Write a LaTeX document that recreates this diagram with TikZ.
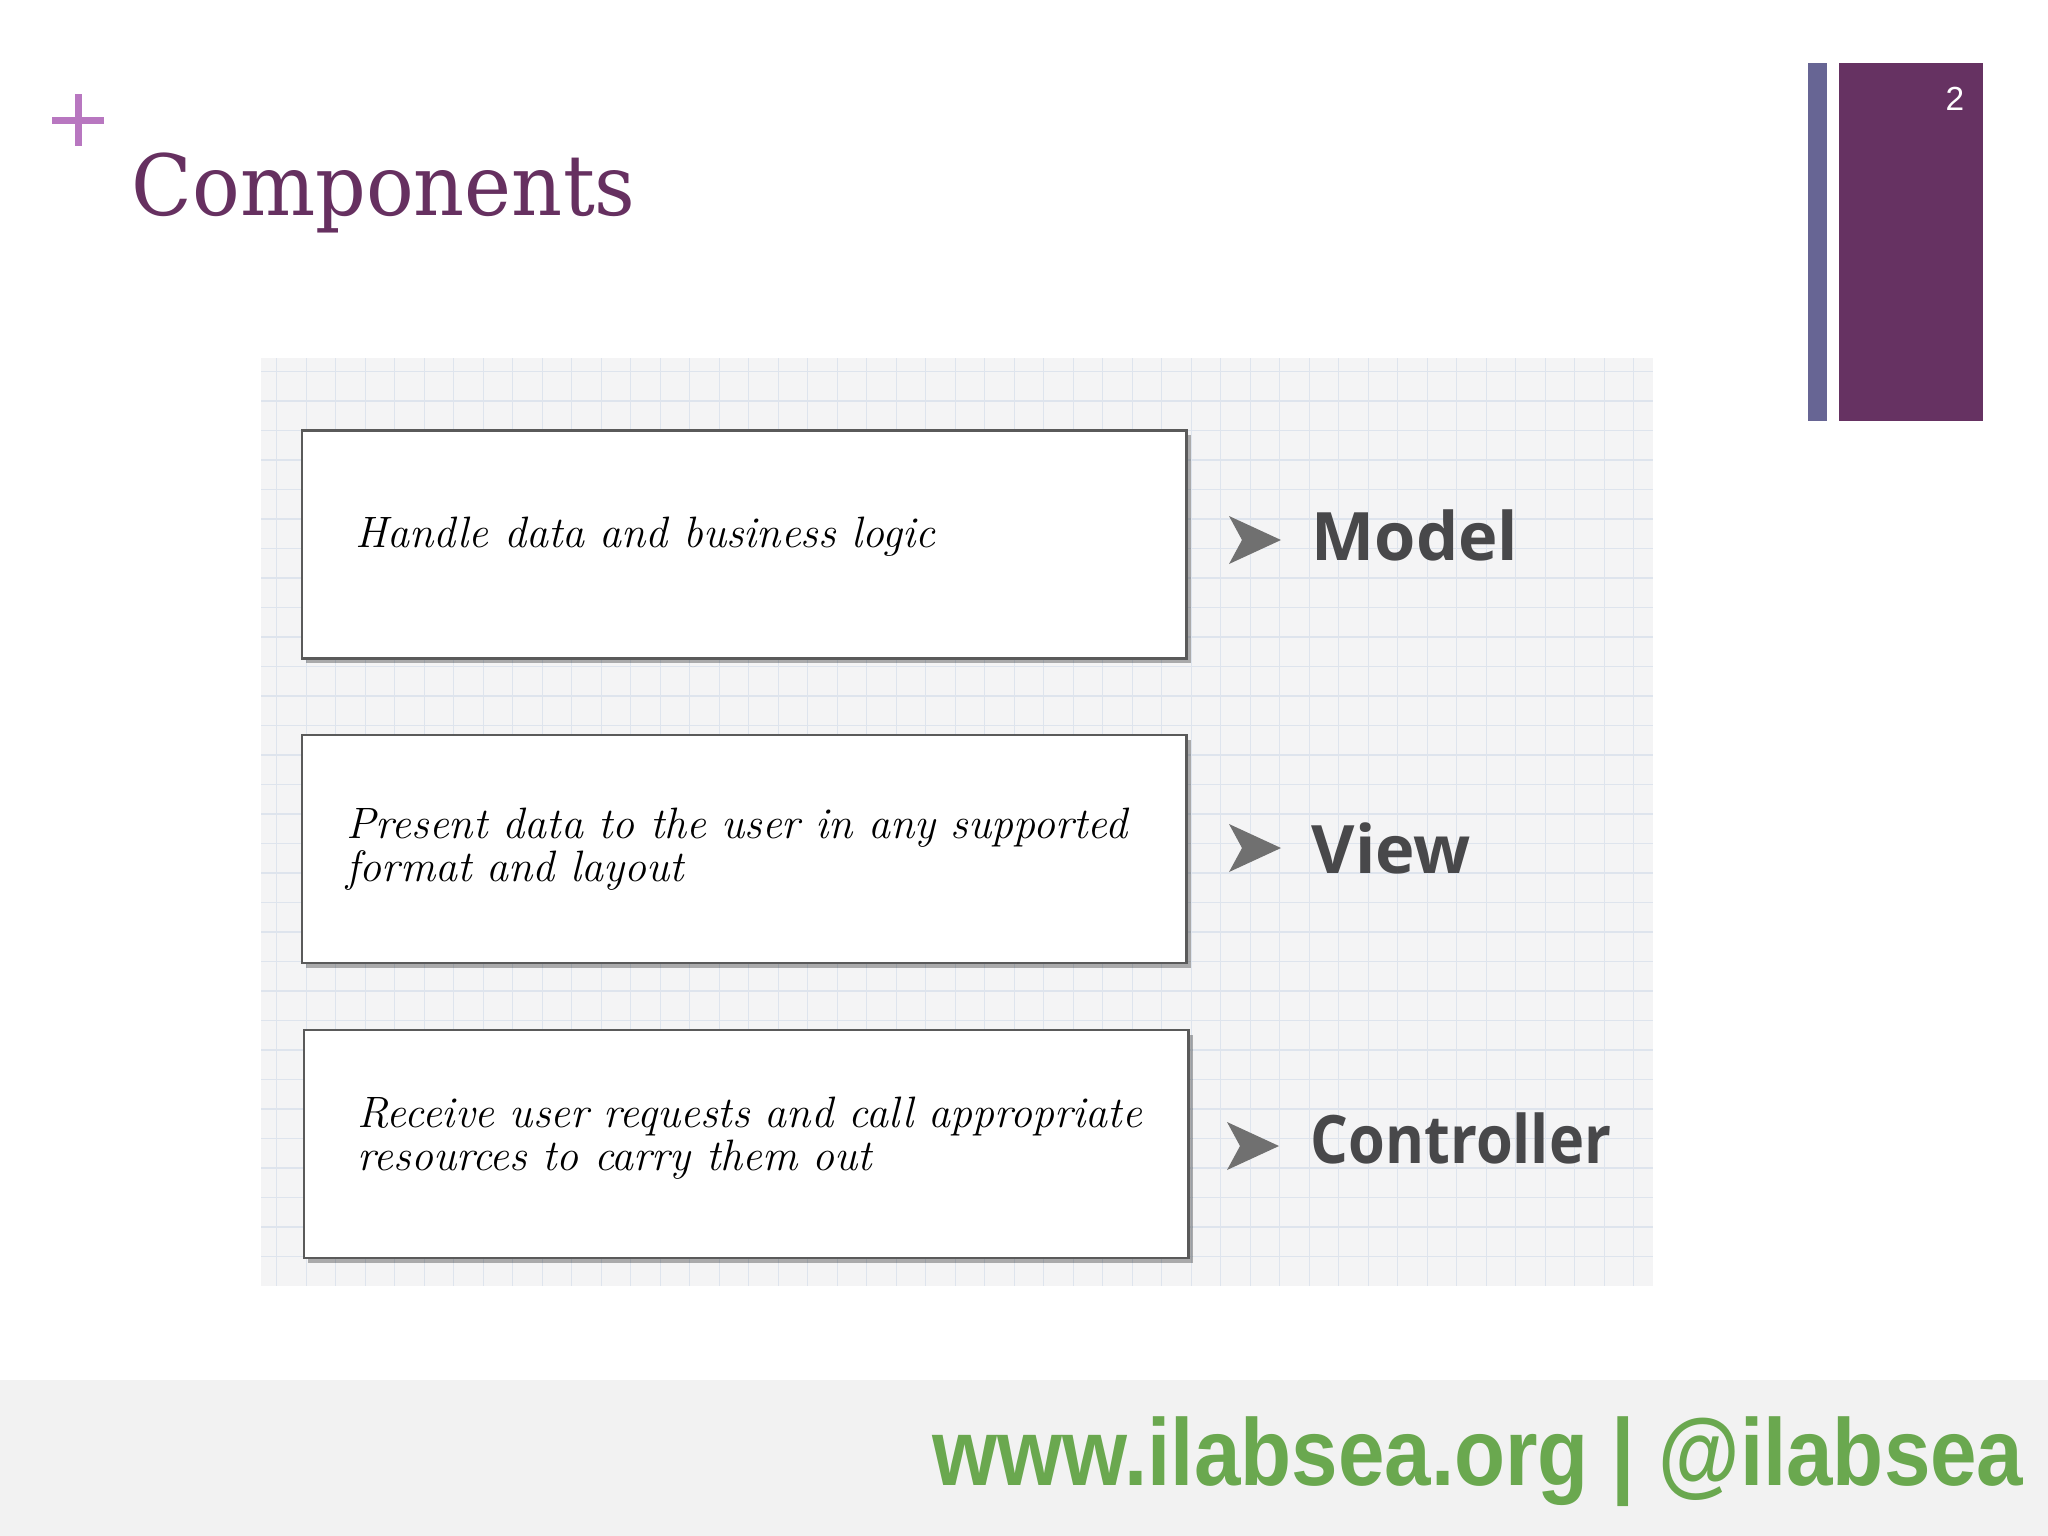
\documentclass[tikz,border=0pt]{standalone}
\usepackage{fontspec}
\newfontfamily\titlefont{DejaVu Serif}
\newfontfamily\labelfont{Open Sans}
\newfontfamily\footfont{Liberation Sans}
\usetikzlibrary{shadows}
\definecolor{titlepurple}{RGB}{102,48,96}
\definecolor{plusviolet}{RGB}{184,119,192}
\definecolor{barblue}{RGB}{103,101,148}
\definecolor{barpurple}{RGB}{102,50,98}
\definecolor{footgray}{RGB}{242,242,242}
\definecolor{footgreen}{RGB}{106,168,79}
\definecolor{gridbg}{RGB}{244,244,245}
\definecolor{gridcol}{RGB}{222,228,237}
\definecolor{boxborder}{RGB}{90,90,90}
\definecolor{arrowgray}{RGB}{112,112,112}
\definecolor{labelgray}{RGB}{72,72,74}
\tikzset{
  gridline/.style={draw=gridcol, line width=0.35pt},
  mvcbox/.style={draw=boxborder, fill=white, line width=0.7pt, inner sep=0pt,
    minimum width=8.84cm, minimum height=2.28cm,
    drop shadow={shadow xshift=1.3pt, shadow yshift=-1.3pt, fill=black, opacity=0.3}},
  handtext/.style={anchor=west, align=left, inner sep=0pt, font=\rmfamily\itshape\fontsize{12.5}{12.3}\selectfont, text=black},
  mvclabel/.style={anchor=base west, inner sep=0pt, font=\labelfont\bfseries\fontsize{19}{22}\selectfont, text=labelgray},
  navarrow/.pic={\fill[arrowgray] (-26,-24) -- (26,0) -- (-26,24) -- (-13,0) -- cycle;}
}
\begin{document}
\begin{tikzpicture}[x=0.01cm, y=-0.01cm]
\useasboundingbox (0,0) rectangle (2048,1536);
\fill[white] (0,0) rectangle (2048,1536);
% footer band
\fill[footgray] (0,1380) rectangle (2048,1536);
% plus sign
\fill[plusviolet] (52,116.5) rectangle (104,123.5);
\fill[plusviolet] (74.5,94) rectangle (81.5,146);
% title
\node[anchor=base west, inner sep=0pt, text=titlepurple, font=\titlefont\fontsize{24}{28}\selectfont, xscale=0.94, transform shape] (title) at (131,215) {Components};
% side bars
\fill[barblue] (1808,63) rectangle (1827,421);
\fill[barpurple] (1839,63) rectangle (1983,421);
\node[text=white, font=\footfont\fontsize{9.5}{11}\selectfont, inner sep=0pt] (pagenum) at (1955,99) {2};
% grid background
\fill[gridbg] (261,358) rectangle (1653,1286);
\foreach \k in {0,...,46} \draw[gridline] ({276.7+29.5*\k},358) -- ({276.7+29.5*\k},1286);
\foreach \k in {0,...,30} \draw[gridline] (261,{371.5+29.5*\k}) -- (1653,{371.5+29.5*\k});
% boxes
\node[mvcbox] (b1) at (744,544.5) {};
\node[mvcbox] (b2) at (744,849) {};
\node[mvcbox] (b3) at (746,1144) {};
\node[handtext] (t1) at (355,537) {Handle data and business logic};
\node[handtext] (t2) at (346,849.5) {Present data to the user in any supported\\format and layout};
\node[handtext] (t3) at (357,1138.5) {Receive user requests and call appropriate\\resources to carry them out};
% arrows
\pic at (1255,540) {navarrow};
\pic at (1255,848) {navarrow};
\pic at (1253,1146) {navarrow};
% labels
\node[mvclabel] (model) at (1311,560) {Model};
\node[mvclabel] (view) at (1311,873) {View};
\node[mvclabel, xscale=0.89, transform shape] (ctrl) at (1310,1163) {Controller};
% footer text
\node[anchor=base east, inner sep=0pt, text=footgreen, font=\footfont\bfseries\fontsize{27}{30}\selectfont, xscale=0.88, transform shape] (footer) at (2024,1485) {www.ilabsea.org | @ilabsea};
\end{tikzpicture}
\end{document}
